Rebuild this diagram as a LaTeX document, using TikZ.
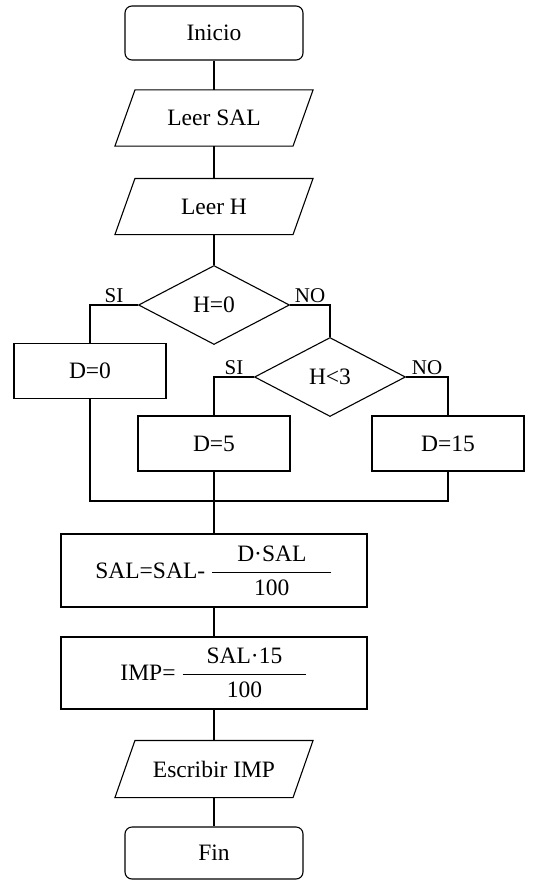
\documentclass[tikz,border=0pt]{standalone}
\usepackage{fontspec}
\setmainfont{Liberation Serif}
\usetikzlibrary{shapes.geometric}

\begin{document}
\begin{tikzpicture}[x=1pt,y=-1pt,line width=1.1pt,
  font=\fontsize{23.5}{28}\selectfont,
  term/.style={draw,rounded corners=7pt,minimum width=178pt,minimum height=54pt},
  io/.style={minimum width=177pt,minimum height=55pt,inner sep=0pt},
  proc/.style={draw,minimum width=152pt,minimum height=55pt},
  calc/.style={draw,minimum width=306pt,minimum height=73pt},
  cond/.style={draw,diamond,minimum width=151pt,minimum height=79pt,inner sep=0pt},
  lbl/.style={font=\fontsize{21}{24}\selectfont,inner sep=2pt}]
\useasboundingbox (0,0) rectangle (538,880);

% main column
\node[term] (ini) at (214,33) {Inicio};
\node[io] (lsal) at (214,118) {Leer SAL};
\node[io] (lh) at (214,206.5) {Leer H};
\node[cond] (c1) at (214,305) {H=0};

% branches
\node[proc] (d0) at (90,371) {D=0};
\node[cond] (c2) at (330,377) {H<3};
\node[proc] (d5) at (214,443.5) {D=5};
\node[proc] (d15) at (448,443.5) {D=15};
\coordinate (join) at (214,501);

% calculations and output
\node[calc] (sal) at (214,570.5)
  {SAL=SAL- $\displaystyle\frac{\mbox{\hspace{25pt}D·SAL\hspace{25pt}}}{\mbox{100}}$};
\node[calc,minimum height=72pt] (imp) at (214,673)
  {IMP= $\displaystyle\frac{\mbox{\hspace{24pt}SAL·15\hspace{24pt}}}{\mbox{100}}$};
\node[io,minimum height=56pt] (esc) at (214,769) {Escribir IMP};
\node[term,minimum height=52pt] (fin) at (214,853) {Fin};

% slanted outlines of the input/output boxes
\foreach \n in {lsal,lh,esc}
  \draw ([xshift=10pt]\n.north west) -- ([xshift=10pt]\n.north east)
    -- ([xshift=-10pt]\n.south east) -- ([xshift=-10pt]\n.south west) -- cycle;

\draw (ini) -- (lsal);
\draw (lsal) -- (lh);
\draw (lh) -- (c1);
\draw (c1.west) -| node[lbl,pos=0.25,above]{SI} (d0.north);
\draw (c1.east) -| node[lbl,pos=0.25,above]{NO} (c2.north);
\draw (c2.west) -| node[lbl,pos=0.25,above]{SI} (d5.north);
\draw (c2.east) -| node[lbl,pos=0.25,above]{NO} (d15.north);
\draw (d0.south) |- (join) -| (d15.south);
\draw (d5) -- (join) -- (sal);
\draw (sal) -- (imp);
\draw (imp) -- (esc);
\draw (esc) -- (fin);
\end{tikzpicture}
\end{document}
